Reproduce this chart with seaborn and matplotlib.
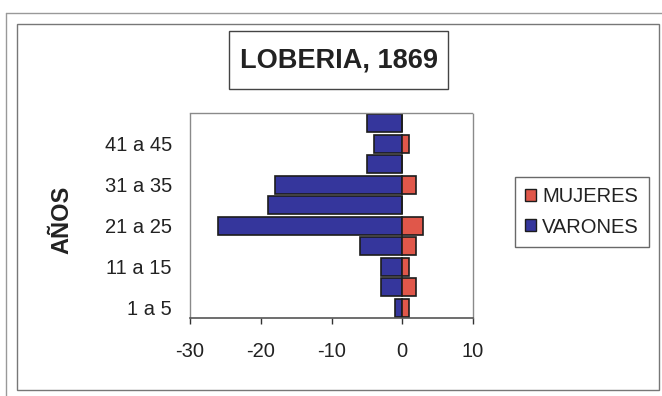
import matplotlib
matplotlib.use("Agg")
import matplotlib.pyplot as plt
from matplotlib.patches import Rectangle, Patch
from matplotlib.lines import Line2D
import seaborn as sns
import pandas as pd

# Age groups (youngest first) and counts per sex
grupos = ["1 a 5", "6 a 10", "11 a 15", "16 a 20", "21 a 25",
          "26 a 30", "31 a 35", "36 a 40", "41 a 45", "46 a 50"]
varones = [1, 3, 3, 6, 26, 19, 18, 5, 4, 5]
mujeres = [1, 2, 1, 2, 3, 0, 2, 0, 1, 0]
etiquetas_visibles = ["1 a 5", "11 a 15", "21 a 25", "31 a 35", "41 a 45"]
xticks = [-30, -20, -10, 0, 10]

titulo = "LOBERIA, 1869"
color_varones = "#35369c"
color_mujeres = "#e0574a"

df = pd.DataFrame({
    "grupo": grupos * 2,
    "valor": [-v for v in varones] + mujeres,
    "sexo": ["VARONES"] * len(grupos) + ["MUJERES"] * len(grupos),
})
orden = grupos[::-1]  # oldest group on top

sns.set_theme(style="white")
plt.rcParams["font.family"] = ["Liberation Sans", "DejaVu Sans"]

fig = plt.figure(figsize=(6.62, 3.96), dpi=100)
fig.patch.set_facecolor("white")
ax = fig.add_axes([190 / 662, 1 - 318 / 396, 283 / 662, 205 / 396])

for sexo, col in [("VARONES", color_varones), ("MUJERES", color_mujeres)]:
    sub = df[df["sexo"] == sexo]
    sns.barplot(data=sub, x="valor", y="grupo", order=orden, orient="h",
                color=col, saturation=1, width=0.9, edgecolor="#1c1c1c",
                linewidth=1.2, ax=ax, errorbar=None)

ax.set_xlim(-30, 10)
ax.set_xticks(xticks)
ax.set_xticklabels([str(t) for t in xticks])
ax.set_yticks([orden.index(g) for g in etiquetas_visibles])
ax.set_yticklabels(etiquetas_visibles)
ax.set_xlabel("")
ax.set_ylabel("")
ax.tick_params(axis="x", which="both", bottom=True, length=4, width=1,
               color="#333333", pad=13, labelsize=14.5, labelcolor="#222222")
ax.tick_params(axis="y", length=0, pad=13, labelsize=14.5, labelcolor="#222222")

for side in ["top", "right", "left"]:
    ax.spines[side].set_visible(True)
    ax.spines[side].set_color("#8a8a8a")
    ax.spines[side].set_linestyle((0, (1, 1)))
    ax.spines[side].set_linewidth(1.0)
ax.spines["bottom"].set_color("#555555")
ax.spines["bottom"].set_linewidth(1.2)

fig.text(62 / 662, 1 - 220 / 396, "AÑOS", rotation=90, ha="center",
         va="center", fontsize=17, fontweight="bold", color="#222222")

# Title box
fig.patches.append(Rectangle((229 / 662, 1 - 89 / 396), 219 / 662, 58 / 396,
                             transform=fig.transFigure, fill=False,
                             edgecolor="#444444", linewidth=1.0))
fig.text(339 / 662, 1 - 60 / 396, titulo, ha="center", va="center",
         fontsize=19.5, fontweight="bold", color="#222222")

# Chart frame and page lines
fig.patches.append(Rectangle((17 / 662, 1 - 390 / 396), 642 / 662, 366 / 396,
                             transform=fig.transFigure, fill=False,
                             edgecolor="#777777", linewidth=1.0))
fig.lines.append(Line2D([6 / 662, 1], [1 - 13 / 396, 1 - 13 / 396],
                        transform=fig.transFigure, color="#999999", lw=1.0))
fig.lines.append(Line2D([6 / 662, 6 / 662], [0, 1 - 13 / 396],
                        transform=fig.transFigure, color="#999999", lw=1.0))

handles = [Patch(facecolor=color_mujeres, edgecolor="#1c1c1c", label="MUJERES"),
           Patch(facecolor=color_varones, edgecolor="#1c1c1c", label="VARONES")]
leg = fig.legend(handles=handles, loc="center",
                 bbox_to_anchor=(582 / 662, 1 - 212 / 396), frameon=True,
                 fancybox=False, fontsize=14.5, handlelength=0.55,
                 handleheight=0.55, handletextpad=0.3, labelspacing=0.55,
                 borderpad=0.5, borderaxespad=0)
leg.get_frame().set_edgecolor("#444444")
leg.get_frame().set_linewidth(1.0)
for t in leg.get_texts():
    t.set_color("#222222")

fig.savefig("out.png", dpi=100, facecolor="white")
